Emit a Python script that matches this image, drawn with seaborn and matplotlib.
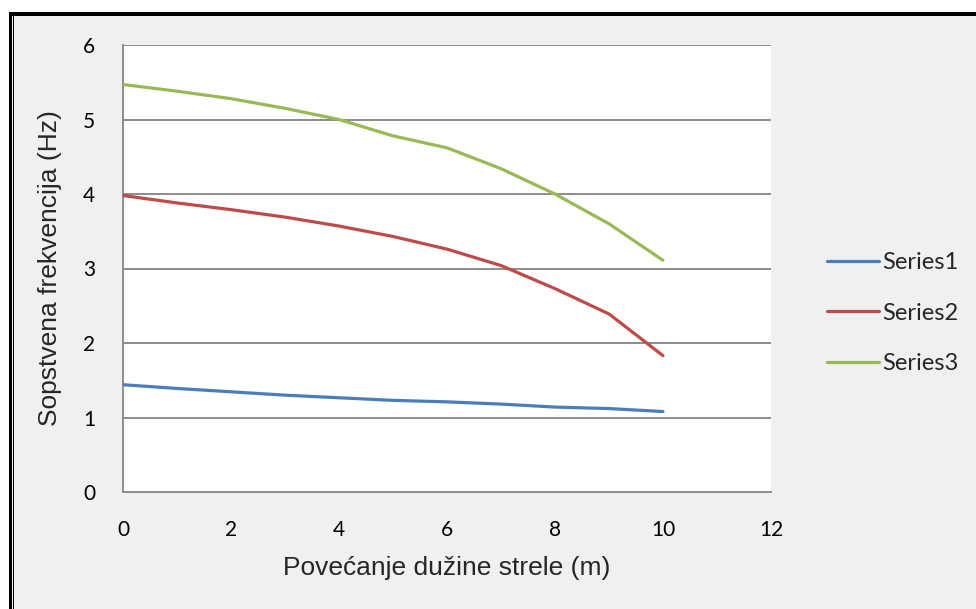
import matplotlib
matplotlib.use("Agg")
import matplotlib.pyplot as plt
import seaborn as sns
import pandas as pd
from matplotlib.patches import Rectangle
from matplotlib.lines import Line2D

x_vals = [0, 1, 2, 3, 4, 5, 6, 7, 8, 9, 10]
series1 = [1.44, 1.39, 1.345, 1.30, 1.265, 1.23, 1.21, 1.18, 1.14, 1.12, 1.08]
series2 = [3.98, 3.88, 3.79, 3.69, 3.57, 3.43, 3.26, 3.04, 2.73, 2.39, 1.83]
series3 = [5.47, 5.38, 5.28, 5.15, 5.00, 4.78, 4.62, 4.34, 4.00, 3.60, 3.11]
series_names = ["Series1", "Series2", "Series3"]
x_ticks = [0, 2, 4, 6, 8, 10, 12]
y_ticks = [0, 1, 2, 3, 4, 5, 6]
xlabel = "Povećanje dužine strele (m)"
ylabel = "Sopstvena frekvencija (Hz)"

df = pd.concat([
    pd.DataFrame({"x": x_vals, "y": vals, "series": name})
    for name, vals in zip(series_names, [series1, series2, series3])
])

colors = ["#4a7ebb", "#be4b48", "#98b954"]

sns.set_style("white")
plt.rcParams["font.family"] = ["Liberation Sans", "DejaVu Sans"]

W, H = 976, 609
fig = plt.figure(figsize=(W / 100, H / 100), dpi=100)
fig.patch.set_facecolor("white")

def fx(px):
    return px / W

def fy(py):
    return 1 - py / H

# gray chart area and black frame (behind the axes)
fig.patches.append(Rectangle((fx(9), 0), 1 - fx(9), fy(12), transform=fig.transFigure,
                             facecolor="#f0f0f0", edgecolor="none", zorder=-3))
fig.patches.append(Rectangle((fx(9), 0), fx(3), fy(12), transform=fig.transFigure,
                             facecolor="black", edgecolor="none", zorder=-2))
fig.patches.append(Rectangle((fx(12.5), 0), fx(1.8), fy(12), transform=fig.transFigure,
                             facecolor="black", edgecolor="none", zorder=-2))
fig.patches.append(Rectangle((fx(9), fy(16)), 1 - fx(9), fy(12) - fy(16), transform=fig.transFigure,
                             facecolor="black", edgecolor="none", zorder=-2))

ax = fig.add_axes([fx(123), fy(492), fx(771) - fx(123), fy(45) - fy(492)])
ax.set_zorder(2)
ax.set_facecolor("white")

sns.lineplot(data=df, x="x", y="y", hue="series", palette=colors, ax=ax,
             linewidth=2.3, legend=False, sort=False, zorder=3)
for ln in ax.get_lines():
    ln.set_solid_joinstyle("round")

ax.set_xlim(0, 12)
ax.set_ylim(0, 6)
ax.set_xticks(x_ticks)
ax.set_yticks(y_ticks)
grid_c = "#8c8c8c"
for yv in y_ticks[1:]:
    ax.axhline(yv, color=grid_c, linewidth=1.4, zorder=1)
for s in ["top", "right"]:
    ax.spines[s].set_visible(False)
for s in ["left", "bottom"]:
    ax.spines[s].set_color(grid_c)
    ax.spines[s].set_linewidth(1.4)
ax.tick_params(axis="both", which="both", direction="out", length=8, width=1.4,
               color=grid_c, labelsize=15, labelcolor="black")
ax.tick_params(axis="y", pad=12)
ax.tick_params(axis="x", pad=12)
for lab in ax.get_xticklabels() + ax.get_yticklabels():
    lab.set_fontfamily(["Lato", "DejaVu Sans"])

ax.set_xlabel(xlabel, fontsize=19, labelpad=12)
ax.set_ylabel(ylabel, fontsize=19, labelpad=15)

handles = [Line2D([0], [0], color=c, linewidth=2.3) for c in colors]
leg = fig.legend(handles, series_names, loc="center left",
                 bbox_to_anchor=(fx(806), fy(313)), frameon=False,
                 prop={"family": ["Lato", "DejaVu Sans"], "size": 17},
                 handlelength=2.2, handletextpad=0.12, labelspacing=1.25)
leg.set_zorder(3)

fig.savefig("out.png", dpi=100, facecolor=fig.get_facecolor())
